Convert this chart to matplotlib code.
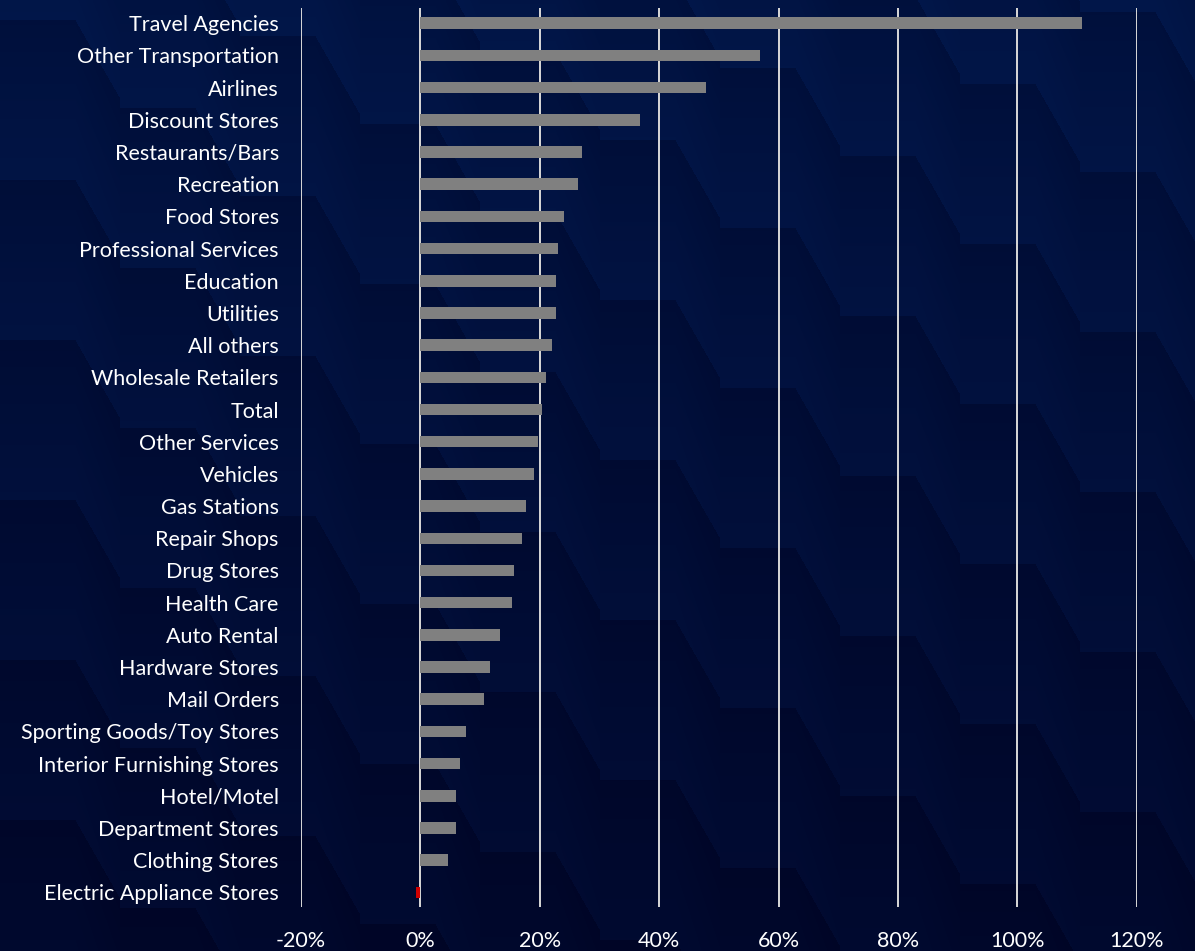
import numpy as np
import matplotlib.pyplot as plt
from matplotlib.ticker import FuncFormatter

categories = [
    "Travel Agencies", "Other Transportation", "Airlines", "Discount Stores",
    "Restaurants/Bars", "Recreation", "Food Stores", "Professional Services",
    "Education", "Utilities", "All others", "Wholesale Retailers", "Total",
    "Other Services", "Vehicles", "Gas Stations", "Repair Shops", "Drug Stores",
    "Health Care", "Auto Rental", "Hardware Stores", "Mail Orders",
    "Sporting Goods/Toy Stores", "Interior Furnishing Stores", "Hotel/Motel",
    "Department Stores", "Clothing Stores", "Electric Appliance Stores",
]
growth = [
    110.9, 56.9, 47.9, 36.8, 27.1, 26.4, 24.1, 23.1, 22.7, 22.7, 22.0, 21.0,
    20.4, 19.7, 19.0, 17.7, 17.0, 15.7, 15.4, 13.3, 11.7, 10.7, 7.6, 6.6,
    6.0, 6.0, 4.6, -0.8,
]
x_ticks = [-20, 0, 20, 40, 60, 80, 100, 120]

plt.rcParams['font.family'] = ['Lato', 'DejaVu Sans']

W, H = 1195, 951
fig = plt.figure(figsize=(W / 100, H / 100), dpi=100)
fig.patch.set_facecolor('#00103d')


def staircase_background(width, height):
    """Navy backdrop made of stepped tiles, dark at each tile's top edge."""
    yy, xx = np.mgrid[0:height, 0:width].astype(float)
    col_w, tile_h, flat = 120.0, 160.0, 75.0
    col = np.floor(xx / col_w)
    xl = xx - col * col_w
    drop = np.where(xl < flat, 0.0, (xl - flat) * 1.75)
    yt = yy - col * 88.0 - drop - 20.0
    frac = np.mod(yt / tile_h, 1.0)
    v = (yy / height)[..., None]
    light_top, light_bot = np.array([2, 23, 74]), np.array([1, 10, 48])
    dark_top, dark_bot = np.array([0, 16, 60]), np.array([0, 5, 38])
    light = light_top + (light_bot - light_top) * v
    dark = dark_top + (dark_bot - dark_top) * v
    img = dark + (light - dark) * (frac[..., None] ** 0.9)
    return np.clip(img / 255.0, 0, 1)


bg = fig.add_axes([0, 0, 1, 1], zorder=0)
bg.imshow(staircase_background(W, H), aspect='auto', interpolation='bilinear')
bg.axis('off')

ax = fig.add_axes([0.2519, 0.0463, 0.6993, 0.9453], zorder=1)
ax.set_facecolor('none')

y = np.arange(len(categories))
colors = ['#d00000' if v < 0 else '#808080' for v in growth]
ax.barh(y, growth, height=0.36, color=colors, zorder=3)

ax.set_xlim(-20, 120)
ax.set_ylim(len(categories) - 0.55, -0.47)
ax.set_xticks(x_ticks)
ax.xaxis.set_major_formatter(FuncFormatter(lambda v, _: f"{v:.0f}%"))
ax.set_yticks(y)
ax.set_yticklabels(categories)
ax.grid(axis='x', color='#d9d9d9', linewidth=1.4, zorder=1)
ax.set_axisbelow(True)

for side in ax.spines.values():
    side.set_visible(False)
ax.tick_params(axis='both', length=0, colors='white', labelsize=15.5)
ax.tick_params(axis='x', pad=17)
ax.tick_params(axis='y', pad=16)

fig.savefig('out.png', dpi=100, facecolor=fig.get_facecolor())
